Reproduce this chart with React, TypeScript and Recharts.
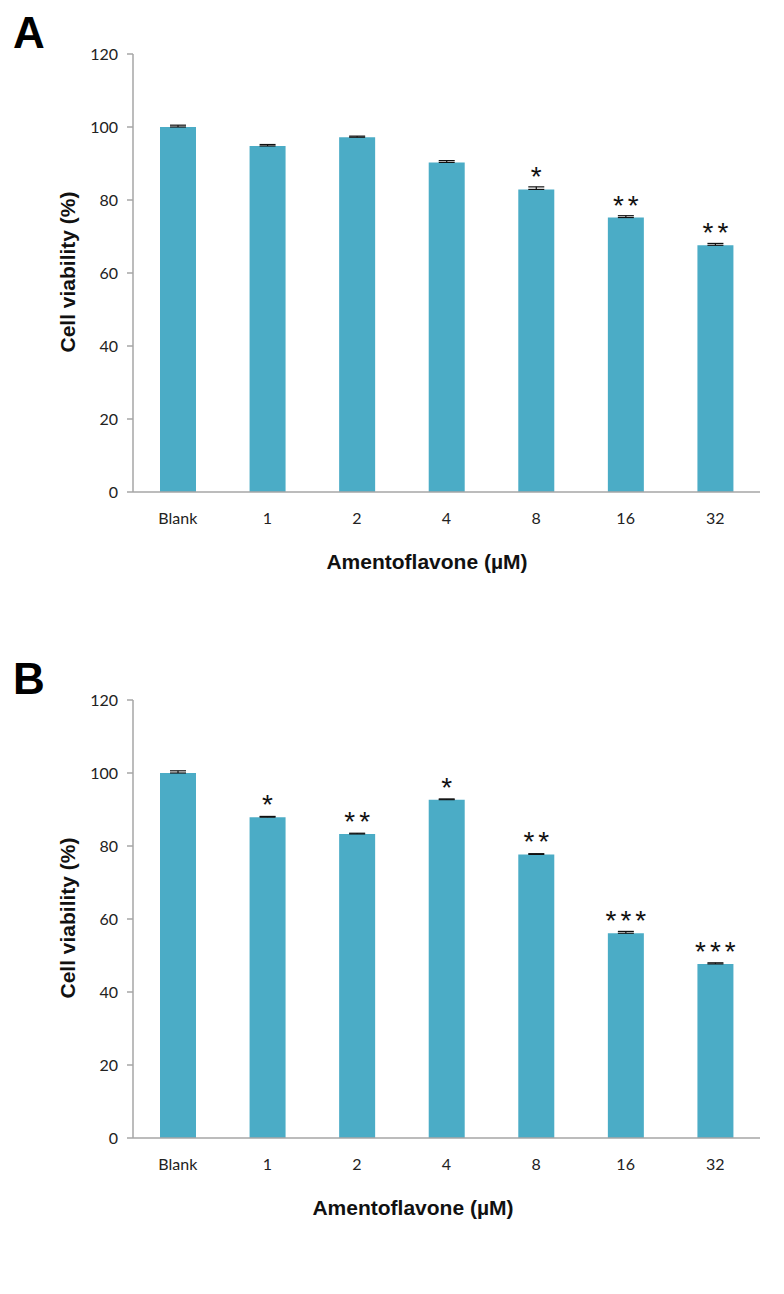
import { Bar, BarChart, ErrorBar, LabelList, XAxis, YAxis } from 'recharts';

const doses = ['Blank', '1', '2', '4', '8', '16', '32'];
const yTicks = [0, 20, 40, 60, 80, 100, 120];

const viabilityA = [100, 94.8, 97.2, 90.3, 82.9, 75.2, 67.6];
const errorA = [0.5, 0.4, 0.3, 0.5, 0.7, 0.5, 0.5];
const sigA = ['', '', '', '', '*', '**', '**'];

const viabilityB = [100, 87.9, 83.3, 92.7, 77.7, 56.1, 47.7];
const errorB = [0.6, 0.2, 0.2, 0.2, 0.2, 0.5, 0.3];
const sigB = ['', '*', '**', '*', '**', '***', '***'];

const BAR_COLOR = '#4bacc6';
const AXIS_COLOR = '#a6a6a6';
const TITLE_FONT = '"Liberation Sans", Arial, sans-serif';
const TICK_FONT = 'Lato, "Open Sans", sans-serif';

function buildRows(values: number[], errors: number[], sig: string[]) {
  return doses.map((dose, i) => ({
    dose,
    value: values[i],
    err: [0, errors[i]],
    sig: sig[i],
  }));
}

function StarLabel(props: any) {
  const { x, y, width, value } = props;
  if (!value) return null;
  // letter spacing adds trailing space, nudge right to re-center
  return (
    <text
      x={Number(x) + Number(width) / 2 + 2}
      y={Number(y) - 3}
      textAnchor='middle'
      fontFamily={TITLE_FONT}
      fontSize={28}
      letterSpacing={4}
      fill='#111'
    >
      {value}
    </text>
  );
}

interface PanelProps {
  top: number;
  letter: string;
  values: number[];
  errors: number[];
  sig: string[];
  xLabelX: number;
}

function Panel({ top, letter, values, errors, sig, xLabelX }: PanelProps) {
  const rows = buildRows(values, errors, sig);
  return (
    <div style={{ position: 'absolute', left: 0, top, width: 784, height: 640 }}>
      <div
        style={{
          position: 'absolute',
          left: 13,
          top: 8,
          fontFamily: TITLE_FONT,
          fontWeight: 'bold',
          fontSize: 44,
          lineHeight: '50px',
          color: '#000',
        }}
      >
        {letter}
      </div>
      <div
        style={{
          position: 'absolute',
          left: 68,
          top: 272,
          transform: 'translate(-50%, -50%) rotate(-90deg)',
          whiteSpace: 'nowrap',
          fontFamily: TITLE_FONT,
          fontWeight: 'bold',
          fontSize: 21,
          color: '#111',
        }}
      >
        Cell viability (%)
      </div>
      <div
        style={{
          position: 'absolute',
          left: xLabelX,
          top: 562,
          transform: 'translate(-50%, -50%)',
          whiteSpace: 'nowrap',
          fontFamily: TITLE_FONT,
          fontWeight: 'bold',
          fontSize: 21,
          color: '#111',
        }}
      >
        Amentoflavone (µM)
      </div>
      <BarChart
        width={784}
        height={600}
        data={rows}
        margin={{ top: 54, right: 24, bottom: 68, left: 73 }}
        barCategoryGap={0}
      >
        <XAxis
          dataKey='dose'
          height={40}
          axisLine={{ stroke: AXIS_COLOR, strokeWidth: 1.5 }}
          tickLine={false}
          tickSize={0}
          tickMargin={21}
          tick={{ fill: '#222', fontSize: 16, fontFamily: TICK_FONT }}
        />
        <YAxis
          width={60}
          domain={[0, 120]}
          ticks={yTicks}
          interval={0}
          axisLine={{ stroke: AXIS_COLOR, strokeWidth: 1.5 }}
          tickLine={{ stroke: AXIS_COLOR, strokeWidth: 1.5 }}
          tickSize={6}
          tickMargin={9}
          tick={{ fill: '#222', fontSize: 16, fontFamily: TICK_FONT }}
        />
        <Bar dataKey='value' fill={BAR_COLOR} barSize={36} isAnimationActive={false}>
          <ErrorBar dataKey='err' width={8} stroke='#111' strokeWidth={1.2} direction='y' />
          <LabelList dataKey='sig' content={StarLabel} />
        </Bar>
      </BarChart>
    </div>
  );
}

export default function App() {
  return (
    <div style={{ position: 'relative', margin: -8, width: 784, height: 1294, background: '#fff' }}>
      <Panel top={0} letter='A' values={viabilityA} errors={errorA} sig={sigA} xLabelX={427} />
      <Panel top={646} letter='B' values={viabilityB} errors={errorB} sig={sigB} xLabelX={413} />
    </div>
  );
}
